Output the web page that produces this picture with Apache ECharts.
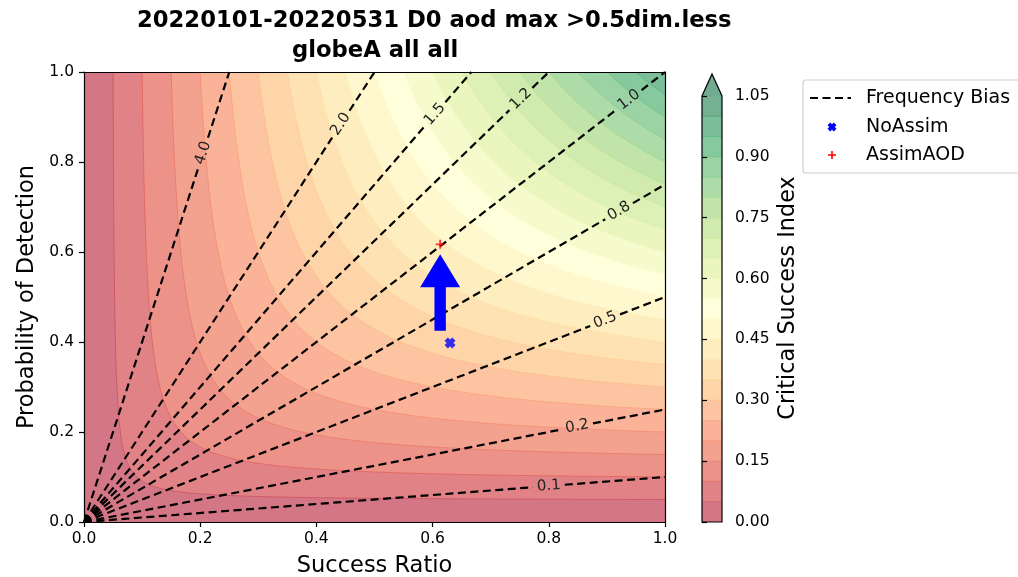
<!DOCTYPE html>
<html><head><meta charset="utf-8">
<script src="https://cdn.jsdelivr.net/npm/echarts@6/dist/echarts.min.js"></script>
<style>html,body{margin:0;padding:0;background:#fff}#c{width:1018px;height:577px}</style>
</head><body><div id="c"></div>
<script>
// ---------------- DATA ----------------
const titleLine1 = '20220101-20220531 D0 aod max >0.5dim.less';
const titleLine2 = 'globeA all all';
const csiLevels = [0.00,0.05,0.10,0.15,0.20,0.25,0.30,0.35,0.40,0.45,0.50,0.55,0.60,0.65,0.70,0.75,0.80,0.85,0.90,0.95,1.00];
const csiTop = 1.05;
const biasLevels = [0.1, 0.25, 0.5, 0.75, 1.0, 1.25, 1.5, 2.0, 4.0];
const biasLabels = ['0.1','0.2','0.5','0.8','1.0','1.2','1.5','2.0','4.0'];
const noAssim = [[0.630, 0.398]];
const assimAOD = [[0.613, 0.617]];
const arrowData = [[0.613, 0.425, 0.595]]; // x, from y, to y

// ---------------- STYLE ----------------
const FONT = 'DejaVu Sans';
const biasLabelSR = [0.80, 0.849, 0.897, 0.921, 0.938, 0.752, 0.604, 0.442, 0.205];
const ALPHA = 0.56;
const RdYlGn = [[165,0,38],[215,48,39],[244,109,67],[253,174,97],[254,224,139],[255,255,191],[217,239,139],[166,217,106],[102,189,99],[26,152,80],[0,104,55]];
function cmap(t, a){
  t = Math.max(0, Math.min(1, t));
  const p = t*10, i = Math.min(9, Math.floor(p)), f = p - i;
  const c = [0,1,2].map(k => RdYlGn[i][k] + (RdYlGn[i+1][k]-RdYlGn[i][k])*f);
  const b = c.map(v => Math.round(v*a + 255*(1-a)));
  return 'rgb(' + b.join(',') + ')';
}
function bandColor(lo){ return cmap((lo + 0.025)/csiTop, ALPHA); }
function edgeColor(lo){ return cmap(lo/csiTop, 0.75); }

function csiCurve(api, c){
  const pts = [];
  const N = 240;
  for (let k = 0; k <= N; k++){
    const u = k/N;
    const sr = c*Math.pow(1/c, u);
    let pod = 1/(1/c + 1 - 1/sr);
    pod = Math.min(1, Math.max(0, pod));
    pts.push(api.coord([sr, pod]));
  }
  return pts;
}

const chart = echarts.init(document.getElementById('c'), null, {renderer:'canvas'});

const axisCommon = {
  axisLine:{show:true, onZero:false, lineStyle:{color:'#000', width:1.2}},
  axisTick:{show:true, inside:false, length:5, lineStyle:{color:'#000', width:1.2}},
  splitLine:{show:false},
  z: 10
};

const X_PTS = [[0,3],[3,0],[5,2],[7,0],[10,3],[8,5],[10,7],[7,10],[5,8],[3,10],[0,7],[2,5]];
const PLUS_PTS = [[4,0],[6,0],[6,4],[10,4],[10,6],[6,6],[6,10],[4,10],[4,6],[0,6],[0,4],[4,4]];
function toPath(p){ return 'path://M' + p.map(q => q[0] + ',' + q[1]).join(' L') + ' Z'; }
function marker(p, cx, cy, s){ return p.map(q => [cx + (q[0]-5)*s/10, cy + (q[1]-5)*s/10]); }

const option = {
  backgroundColor:'#fff',
  animation:false,
  title:[
    {text:titleLine1, left:137, top:10, padding:0, textStyle:{fontFamily:FONT, fontWeight:'bold', fontSize:22.7, color:'#000'}},
    {text:titleLine2, left:292, top:40, padding:0, textStyle:{fontFamily:FONT, fontWeight:'bold', fontSize:22.7, color:'#000'}}
  ],
  grid:[
    {left:84, top:72, width:581, height:450, outerBoundsMode:'none', containLabel:false},
    {left:702, top:96, width:20, height:426, outerBoundsMode:'none', containLabel:false}
  ],
  xAxis:[
    Object.assign({}, axisCommon, {gridIndex:0, type:'value', min:0, max:1, interval:0.2, position:'bottom',
      name:'Success Ratio', nameLocation:'middle', nameGap:33,
      nameTextStyle:{fontFamily:FONT, fontSize:22.5, color:'#000'},
      axisLabel:{fontFamily:FONT, fontSize:15.5, color:'#000', margin:9, formatter:v=>v.toFixed(1)}}),
    Object.assign({}, axisCommon, {gridIndex:0, type:'value', min:0, max:1, position:'top',
      axisTick:{show:false}, axisLabel:{show:false}}),
    {gridIndex:1, type:'value', min:0, max:1, show:false}
  ],
  yAxis:[
    Object.assign({}, axisCommon, {gridIndex:0, type:'value', min:0, max:1, interval:0.2, position:'left',
      name:'Probability of Detection', nameLocation:'middle', nameGap:42,
      nameTextStyle:{fontFamily:FONT, fontSize:22.5, color:'#000'},
      axisLabel:{fontFamily:FONT, fontSize:15.5, color:'#000', margin:10, formatter:v=>v.toFixed(1)}}),
    Object.assign({}, axisCommon, {gridIndex:0, type:'value', min:0, max:1, position:'right',
      axisTick:{show:false}, axisLabel:{show:false}}),
    Object.assign({}, axisCommon, {gridIndex:1, type:'value', min:0, max:1.05, interval:0.15, position:'right',
      axisLine:{show:false},
      name:'Critical Success Index', nameLocation:'middle', nameGap:55, nameRotate:90,
      nameTextStyle:{fontFamily:FONT, fontSize:22.3, color:'#000', padding:[0,0,0,22]},
      axisLabel:{fontFamily:FONT, fontSize:15.5, color:'#000', margin:13, formatter:v=>v.toFixed(2)}})
  ],
  series:[
    { // CSI filled contours
      type:'custom', xAxisIndex:0, yAxisIndex:0, z:1, silent:true,
      data: csiLevels.map((c,i)=>[c,i]),
      renderItem:(params, api)=>{
        const c = csiLevels[params.dataIndex];
        if (c === 0){
          return {type:'polygon', shape:{points:[api.coord([0,0]),api.coord([1,0]),api.coord([1,1]),api.coord([0,1])]},
                  style:{fill:bandColor(c), stroke:null}};
        }
        const curve = csiCurve(api, c);
        return {type:'group', children:[
          {type:'polygon', shape:{points:curve.concat([api.coord([1,1])])}, style:{fill:bandColor(c), stroke:null}},
          {type:'polyline', shape:{points:curve}, style:{stroke:edgeColor(c), lineWidth:0.8, fill:null}}
        ]};
      }
    },
    { // bias lines with inline labels
      type:'custom', xAxisIndex:0, yAxisIndex:0, z:3, silent:true,
      data: biasLevels.map((b,i)=>[b,i]),
      renderItem:(params, api)=>{
        const i = params.dataIndex, b = biasLevels[i];
        const end = b >= 1 ? [1/b, 1] : [1, b];
        const p0 = api.coord([0,0]), p1 = api.coord(end);
        const s = biasLabelSR[i];
        const pl = api.coord([s, b*s]);
        const dx = p1[0]-p0[0], dy = p1[1]-p0[1], L = Math.hypot(dx,dy);
        const ux = dx/L, uy = dy/L, g = 16;
        const ls = {stroke:'#000', lineWidth:2.2, lineDash:[8,4.5], fill:null};
        return {type:'group', children:[
          {type:'line', shape:{x1:p0[0],y1:p0[1],x2:pl[0]-ux*g,y2:pl[1]-uy*g}, style:ls},
          {type:'line', shape:{x1:pl[0]+ux*g,y1:pl[1]+uy*g,x2:p1[0],y2:p1[1]}, style:ls},
          {type:'text', x:pl[0], y:pl[1], rotation:Math.atan2(-dy, dx),
           style:{text:biasLabels[i], fontFamily:FONT, fontSize:15, fill:'#222', align:'center', verticalAlign:'middle'}}
        ]};
      }
    },
    { // arrow
      type:'custom', xAxisIndex:0, yAxisIndex:0, z:4, silent:true,
      data: arrowData,
      renderItem:(params, api)=>{
        const d = arrowData[params.dataIndex];
        const tail = api.coord([d[0], d[1]]), tip = api.coord([d[0], d[2]]);
        const hl = 33, hw = 20, sw = 5.7, bx = tip[0], by = tip[1] + hl;
        return {type:'polygon', shape:{points:[[bx-sw, tail[1]],[bx-sw, by],[bx-hw, by],[tip[0], tip[1]],[bx+hw, by],[bx+sw, by],[bx+sw, tail[1]]]},
                style:{fill:'#0000ff', stroke:null}};
      }
    },
    {
      name:'NoAssim', type:'scatter', xAxisIndex:0, yAxisIndex:0, z:5, data:noAssim,
      symbol:toPath(X_PTS), symbolSize:11, itemStyle:{color:'#0000ff'}
    },
    {
      name:'AssimAOD', type:'scatter', xAxisIndex:0, yAxisIndex:0, z:5, data:assimAOD,
      symbol:toPath(PLUS_PTS), symbolSize:9, itemStyle:{color:'#ff0000'}
    },
    { // colorbar bands
      type:'custom', xAxisIndex:2, yAxisIndex:2, z:2, silent:true,
      data: csiLevels.map((c,i)=>[c,i]),
      renderItem:(params, api)=>{
        const lo = csiLevels[params.dataIndex];
        const hi = params.dataIndex+1 < csiLevels.length ? csiLevels[params.dataIndex+1] : csiTop;
        const a = api.coord([0, hi]), b = api.coord([1, lo]);
        const ch = [{type:'rect', shape:{x:a[0], y:a[1], width:b[0]-a[0], height:b[1]-a[1]}, style:{fill:bandColor(lo), stroke:null}}];
        if (lo > 0) ch.push({type:'line', shape:{x1:a[0],y1:b[1],x2:b[0],y2:b[1]}, style:{stroke:edgeColor(lo), lineWidth:0.8}});
        return {type:'group', children:ch};
      }
    },
    { // colorbar extension triangle + outline
      type:'custom', xAxisIndex:2, yAxisIndex:2, z:3, silent:true,
      data: [[csiTop]],
      renderItem:(params, api)=>{
        const tl = api.coord([0, csiTop]), br = api.coord([1, 0]);
        const apex = [(tl[0]+br[0])/2, tl[1] - 22];
        return {type:'group', children:[
          {type:'polygon', shape:{points:[[tl[0],tl[1]],[br[0],tl[1]],apex]}, style:{fill:cmap(1, ALPHA), stroke:null}},
          {type:'polygon', shape:{points:[[tl[0],br[1]],[br[0],br[1]],[br[0],tl[1]],apex,[tl[0],tl[1]]]}, style:{fill:null, stroke:'#000', lineWidth:1.2}}
        ]};
      }
    }
  ],
  graphic:[
    {type:'rect', z:20, shape:{x:803, y:80, width:240, height:93, r:3}, style:{fill:'#fff', stroke:'#d0d0d0', lineWidth:1.2}},
    {type:'line', z:21, shape:{x1:810, y1:98, x2:851, y2:98}, style:{stroke:'#000', lineWidth:2.2, lineDash:[8,4.5]}},
    {type:'text', z:21, x:866, y:98, style:{text:'Frequency Bias', fontFamily:FONT, fontSize:19, fill:'#000', verticalAlign:'middle'}},
    {type:'polygon', z:21, shape:{points:marker(X_PTS, 832, 127, 9)}, style:{fill:'#0000ff'}},
    {type:'text', z:21, x:866, y:127, style:{text:'NoAssim', fontFamily:FONT, fontSize:19, fill:'#000', verticalAlign:'middle'}},
    {type:'polygon', z:21, shape:{points:marker(PLUS_PTS, 832, 155, 8)}, style:{fill:'#ff0000'}},
    {type:'text', z:21, x:866, y:155, style:{text:'AssimAOD', fontFamily:FONT, fontSize:19, fill:'#000', verticalAlign:'middle'}}
  ]
};
chart.setOption(option);
</script>
</body></html>
